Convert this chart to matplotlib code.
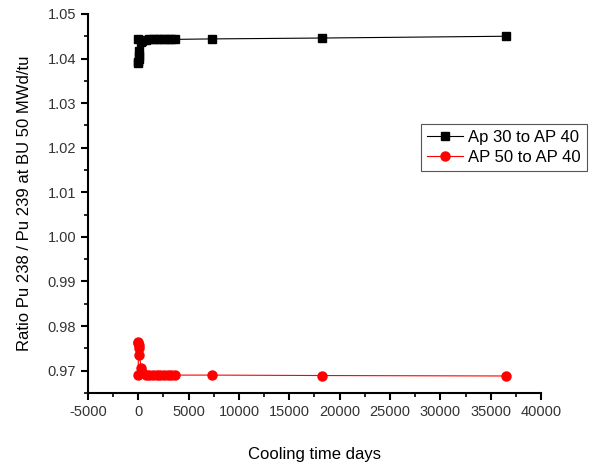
import numpy as np
import matplotlib.pyplot as plt
from matplotlib.ticker import MultipleLocator

plt.rcParams['font.family'] = ['Liberation Sans', 'DejaVu Sans']
plt.rcParams['axes.unicode_minus'] = False

# cooling time in days
days = [0, 1, 10, 30, 60, 120, 270, 365, 730, 1095, 1460, 1825, 2190,
        2555, 2920, 3285, 3650, 7300, 18250, 36500]

ap30_ap40 = [1.0443, 1.0391, 1.0393, 1.0398, 1.0405, 1.0418, 1.0436, 1.0440,
             1.0442, 1.0443, 1.0443, 1.0443, 1.0443, 1.0443, 1.0443, 1.0443,
             1.0443, 1.0444, 1.0446, 1.0450]

ap50_ap40 = [0.9690, 0.9765, 0.9762, 0.9757, 0.9750, 0.9736, 0.9707, 0.9697,
             0.9691, 0.9690, 0.9690, 0.9690, 0.9690, 0.9690, 0.9690, 0.9690,
             0.9690, 0.9690, 0.9689, 0.9688]

fig = plt.figure(figsize=(5.9, 4.65), dpi=100)
ax = fig.add_axes([0.149, 0.155, 0.768, 0.815])

ax.plot(days, ap30_ap40, color='black', lw=0.8, marker='s', ms=6,
        label='Ap 30 to AP 40')
ax.plot(days, ap50_ap40, color='red', lw=0.8, marker='o', ms=6.5,
        label='AP 50 to AP 40')

ax.set_xlim(-5000, 40000)
ax.set_ylim(0.965, 1.05)
ax.xaxis.set_major_locator(MultipleLocator(5000))
ax.xaxis.set_minor_locator(MultipleLocator(2500))
ax.yaxis.set_minor_locator(MultipleLocator(0.005))
yt = np.arange(0.97, 1.0501, 0.01)
ax.set_yticks(yt)
ax.set_yticklabels(['%.2f' % v for v in yt])

for side in ['top', 'right']:
    ax.spines[side].set_visible(False)
for side in ['left', 'bottom']:
    ax.spines[side].set_linewidth(1.5)

ax.tick_params(which='major', direction='out', length=5, width=1.5,
               labelsize=10.5, labelcolor='#333333')
ax.tick_params(which='minor', direction='out', length=3, width=1.2)

ax.set_xlabel('Cooling time days', fontsize=12, labelpad=20)
ax.set_ylabel('Ratio Pu 238 / Pu 239 at BU 50 MWd/tu', fontsize=12, labelpad=11)

leg = ax.legend(loc='upper left', bbox_to_anchor=(0.735, 0.71), fontsize=12,
                fancybox=False, framealpha=1, edgecolor='#555555',
                handlelength=2.2, borderpad=0.35, labelspacing=0.3,
                handletextpad=0.3, borderaxespad=0)
leg.get_frame().set_linewidth(0.8)

fig.savefig('out.png', dpi=100)
